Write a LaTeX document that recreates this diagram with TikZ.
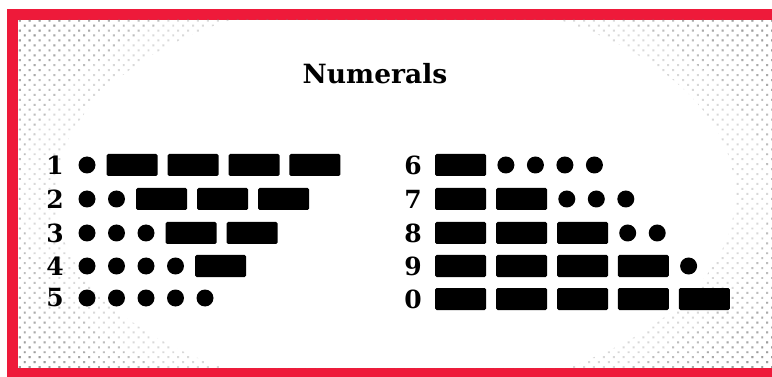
\documentclass[tikz,border=0pt]{standalone}
\usepackage{fontspec}
\setmainfont{DejaVu Serif}
\usetikzlibrary{positioning, patterns.meta}

\definecolor{framered}{RGB}{238,26,58}

\tikzset{
    dit/.style={fill=black, circle, minimum size=17pt, inner sep=0pt, outer xsep=1.5pt},
    dah/.style={fill=black, rounded corners=1.5pt, minimum width=51pt, minimum height=22pt, inner sep=0pt},
    numeral/.style={font=\fontsize{25}{25}\selectfont\bfseries, inner sep=0pt},
    halftone/.style={pattern={Dots[distance=7pt, radius=1.4pt, angle=45]}, pattern color=black!50, fill opacity=0.3, even odd rule}
}

\begin{document}
\begin{tikzpicture}[x=1pt, y=-1pt]
\useasboundingbox (0,0) rectangle (772,377);
% red frame, dotted backdrop
\fill[framered] (7,9) rectangle (772,377);
\fill[white] (18,20) rectangle (772,368);
\begin{scope}
    \clip (18,20) rectangle (772,368);
    \foreach \rx/\ry in {340/200, 375/220, 410/240, 445/260}
        \fill[halftone] (18,20) rectangle (772,368) (395,195) ellipse [x radius=\rx, y radius=\ry];
\end{scope}

\node[font=\fontsize{26.5}{26.5}\selectfont\bfseries] (title) at (375,74) {Numerals};

% digit, start of code, row
\foreach \d/\nx/\sx/\y/\code in {
    1/55/77/165/{dit,dah,dah,dah,dah},
    2/55/77/199/{dit,dit,dah,dah,dah},
    3/55/77/233/{dit,dit,dit,dah,dah},
    4/55/77/266/{dit,dit,dit,dit,dah},
    5/55/77/298/{dit,dit,dit,dit,dit},
    6/413/435/165/{dah,dit,dit,dit,dit},
    7/413/435/199/{dah,dah,dit,dit,dit},
    8/413/435/233/{dah,dah,dah,dit,dit},
    9/413/435/266/{dah,dah,dah,dah,dit},
    0/413/435/299/{dah,dah,dah,dah,dah}} {
    \node[numeral] (n\d) at (\nx,\y) {\d};
    \coordinate (m\d-0) at (\sx-9.5,\y);
    \foreach \s [count=\i, remember=\i as \j (initially 0)] in \code
        \node[\s, right=9.5pt of m\d-\j] (m\d-\i) {};
}
\end{tikzpicture}
\end{document}
